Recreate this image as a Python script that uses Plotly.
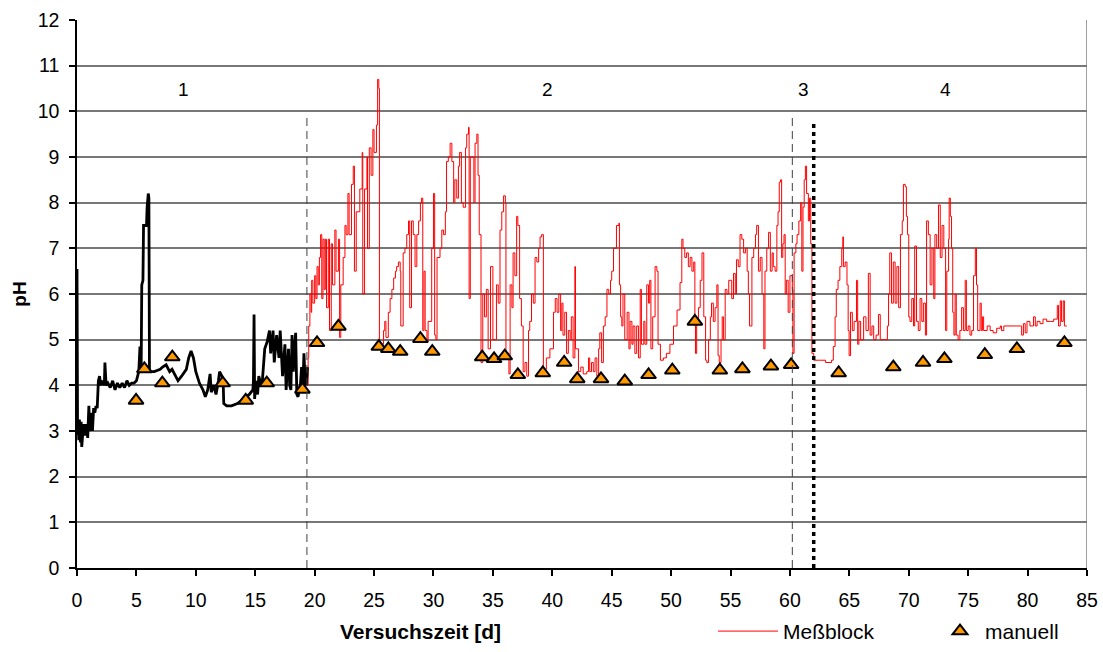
import plotly.graph_objects as go

# Phase 1 (black trace): time [d] and pH
t_phase1 = [
    0.00, 0.02, 0.05, 0.10, 0.15, 0.20, 0.30, 0.35, 0.40, 0.50,
    0.60, 0.70, 0.80, 0.90, 1.00, 1.05, 1.10, 1.20, 1.30, 1.40,
    1.50, 1.60, 1.70, 1.80, 1.90, 2.00, 2.10, 2.20, 2.30, 2.35,
    2.40, 2.45, 2.60, 2.80, 3.00, 3.20, 3.40, 3.60, 3.80, 4.00,
    4.20, 4.40, 4.60, 4.80, 5.00, 5.20, 5.30, 5.35, 5.40, 5.45,
    5.55, 5.60, 5.85, 5.90, 6.00, 6.05, 6.10, 6.50, 7.00, 7.20,
    7.50, 7.80, 8.00, 8.30, 8.50, 8.80, 9.20, 9.40, 9.60, 9.80,
    10.0, 10.3, 10.6, 10.8, 11.0, 11.2, 11.3, 11.5, 11.7, 11.9,
    12.0, 12.2, 12.3, 12.35, 12.6, 13.0, 13.5, 14.0, 14.5, 14.8,
    14.85, 14.9, 14.95, 15.05, 15.2, 15.3, 15.5, 15.6, 15.8, 16.0,
    16.2, 16.3, 16.5, 16.6, 16.8, 17.0, 17.1, 17.3, 17.5, 17.6,
    17.8, 17.9, 18.0, 18.1, 18.2, 18.4, 18.5, 18.6, 18.8, 18.9,
    19.0, 19.1, 19.2, 19.3, 19.4,
]
ph_phase1 = [
    6.55, 3.00, 2.90, 3.20, 2.80, 3.25, 2.75, 3.20, 2.65, 3.00,
    3.15, 2.90, 3.15, 2.85, 3.55, 3.10, 3.00, 3.40, 3.00, 3.50,
    3.40, 3.55, 3.50, 4.10, 4.20, 4.00, 4.10, 4.05, 4.00, 4.50,
    4.05, 4.00, 4.05, 3.95, 4.10, 3.90, 4.05, 3.95, 4.05, 3.95,
    4.10, 4.00, 4.05, 4.05, 4.10, 4.30, 4.85, 4.30, 4.35, 6.20,
    6.30, 7.50, 7.50, 7.90, 8.20, 8.10, 4.30, 4.30, 4.35, 4.40,
    4.45, 4.30, 4.35, 4.20, 4.10, 4.20, 4.35, 4.60, 4.75, 4.60,
    4.30, 4.05, 3.90, 3.75, 3.90, 4.25, 3.85, 4.00, 3.80, 4.10,
    4.30, 4.20, 4.10, 3.60, 3.55, 3.55, 3.60, 3.70, 3.80, 3.90,
    4.10, 5.55, 3.70, 4.10, 3.80, 4.20, 4.00, 4.10, 4.80, 4.95,
    5.20, 4.70, 5.20, 4.50, 5.10, 4.60, 5.20, 4.20, 4.90, 3.90,
    4.80, 4.00, 3.90, 5.10, 4.30, 5.15, 3.80, 3.75, 4.00, 4.40,
    3.90, 4.70, 4.10, 4.00, 4.40,
]

# Meßblock (red trace): time [d] and pH
t_messblock = [
    19.35, 19.45, 19.5, 19.6, 19.7, 19.75, 19.85, 20.0, 20.1, 20.2,
    20.3, 20.4, 20.5, 20.6, 20.7, 20.8, 20.9, 21.0, 21.15, 21.25,
    21.4, 21.5, 21.7, 21.8, 22.0, 22.1, 22.2, 22.4, 22.55, 22.65,
    22.8, 22.9, 23.1, 23.25, 23.35, 23.5, 23.8, 24.0, 24.05, 24.2,
    24.4, 24.45, 24.6, 24.75, 24.9, 25.0, 25.2, 25.3, 25.4, 25.45,
    25.65, 25.8, 25.9, 26.0, 26.2, 26.35, 26.5, 26.65, 26.8, 26.9,
    27.05, 27.2, 27.25, 27.45, 27.6, 27.75, 27.9, 28.0, 28.15, 28.3,
    28.45, 28.6, 28.75, 28.9, 29.0, 29.1, 29.2, 29.3, 29.45, 29.55,
    29.85, 30.0, 30.1, 30.2, 30.3, 30.55, 30.7, 30.85, 31.0, 31.1,
    31.25, 31.4, 31.55, 31.7, 31.8, 31.96, 32.1, 32.2, 32.35, 32.5,
    32.7, 32.8, 32.95, 33.0, 33.1, 33.4, 33.5, 33.65, 33.75, 33.85,
    34.0, 34.15, 34.3, 34.45, 34.6, 34.8, 35.0, 35.3, 35.45, 35.6,
    35.75, 35.9, 36.05, 36.1, 36.35, 36.45, 36.6, 36.7, 36.85, 37.0,
    37.1, 37.25, 37.4, 37.55, 37.7, 37.85, 38.0, 38.1, 38.25, 38.4,
    38.55, 38.7, 38.85, 38.97, 39.1, 39.25, 39.5, 39.8, 40.1, 40.25,
    40.4, 40.55, 40.7, 40.8, 40.9, 41.05, 41.2, 41.35, 41.5, 41.6,
    41.75, 41.9, 41.95, 42.2, 42.4, 42.6, 42.9, 43.05, 43.15, 43.3,
    43.45, 43.6, 43.75, 43.9, 44.0, 44.15, 44.3, 44.45, 44.6, 44.75,
    44.9, 45.0, 45.15, 45.25, 45.4, 45.6, 45.65, 45.75, 45.85, 45.95,
    46.1, 46.3, 46.45, 46.55, 46.7, 46.8, 46.95, 47.1, 47.25, 47.4,
    47.5, 47.7, 47.8, 47.95, 48.1, 48.2, 48.3, 48.45, 48.65, 48.8,
    48.9, 49.1, 49.35, 49.6, 49.9, 50.2, 50.5, 50.75, 50.9, 51.0,
    51.15, 51.3, 51.45, 51.6, 51.75, 51.9, 52.0, 52.05, 52.15, 52.3,
    52.45, 52.6, 52.75, 52.9, 53.0, 53.15, 53.3, 53.4, 53.55, 53.7,
    53.85, 53.95, 54.05, 54.2, 54.3, 54.4, 54.55, 54.7, 54.85, 54.96,
    55.1, 55.25, 55.4, 55.5, 55.65, 55.8, 55.95, 56.1, 56.25, 56.4,
    56.5, 56.6, 56.8, 56.95, 57.1, 57.2, 57.35, 57.5, 57.65, 57.8,
    57.9, 58.05, 58.2, 58.35, 58.5, 58.6, 58.75, 58.9, 59.0, 59.1,
    59.2, 59.3, 59.4, 59.5, 59.6, 59.7, 59.85, 60.0, 60.2, 60.25,
    60.35, 60.5, 60.6, 60.75, 60.9, 61.0, 61.1, 61.2, 61.3, 61.4,
    61.55, 61.65, 61.75, 61.85, 62.0, 62.5, 63.0, 63.5, 63.65, 63.8,
    63.9, 64.05, 64.2, 64.36, 64.45, 64.5, 64.65, 64.8, 64.9, 64.98,
    65.1, 65.25, 65.4, 65.6, 65.7, 65.8, 65.95, 66.2, 66.4, 66.6,
    66.75, 66.9, 67.05, 67.25, 67.45, 67.6, 67.9, 68.2, 68.3, 68.4,
    68.55, 68.7, 68.85, 69.0, 69.15, 69.3, 69.45, 69.55, 69.7, 69.8,
    69.9, 70.0, 70.1, 70.25, 70.4, 70.5, 70.65, 70.8, 70.95, 71.1,
    71.25, 71.4, 71.5, 71.65, 71.8, 71.95, 72.1, 72.2, 72.35, 72.5,
    72.65, 72.8, 72.95, 73.1, 73.2, 73.35, 73.4, 73.5, 73.6, 73.7,
    73.8, 73.9, 74.0, 74.15, 74.3, 74.45, 74.6, 74.75, 74.85, 75.0,
    75.15, 75.3, 75.45, 75.6, 75.7, 75.8, 76.0, 76.1, 76.2, 76.3,
    76.6, 76.85, 77.1, 77.4, 77.7, 77.8, 78.0, 79.4, 79.5, 79.65,
    79.8, 79.95, 80.2, 80.5, 80.65, 80.8, 81.05, 81.3, 81.6, 81.9,
    82.2, 82.5, 82.6, 82.75, 82.85, 83.0, 83.1, 83.3,
]
ph_messblock = [
    4.00, 4.60, 5.30, 6.00, 5.60, 6.30, 5.80, 6.40, 5.90, 6.60,
    6.20, 6.80, 7.30, 5.90, 7.20, 6.10, 7.20, 5.70, 7.20, 5.20,
    7.10, 6.20, 7.40, 6.50, 7.20, 5.05, 6.20, 6.80, 7.50, 7.30,
    8.20, 7.30, 8.40, 8.80, 6.50, 7.80, 8.30, 9.10, 6.00, 8.30,
    9.00, 7.00, 9.20, 8.60, 9.60, 9.10, 9.70, 10.70, 10.50, 4.85,
    4.90, 5.20, 5.40, 5.05, 5.60, 5.90, 6.10, 6.35, 6.50, 6.60,
    6.70, 6.50, 5.30, 6.90, 7.00, 7.30, 7.60, 5.70, 7.60, 7.30,
    6.60, 7.30, 7.60, 8.00, 8.10, 5.20, 6.50, 5.20, 4.95, 5.40,
    7.00, 8.20, 5.10, 5.00, 6.80, 7.00, 7.40, 7.30, 7.80, 8.90,
    9.00, 9.30, 8.90, 8.00, 8.50, 8.10, 8.80, 9.10, 8.00, 7.90,
    9.20, 9.50, 9.65, 5.90, 9.00, 8.00, 9.30, 9.50, 8.60, 7.30,
    4.50, 6.00, 5.50, 6.10, 4.80, 6.60, 5.00, 6.20, 5.80, 7.40,
    7.80, 8.15, 8.00, 4.70, 4.25, 6.20, 5.70, 6.90, 6.40, 7.70,
    7.50, 5.90, 5.30, 4.30, 4.50, 4.20, 5.20, 5.40, 6.00, 5.80,
    6.80, 6.70, 7.00, 7.25, 7.30, 4.35, 4.60, 4.80, 5.60, 5.90,
    5.60, 6.00, 5.20, 5.80, 5.10, 5.60, 4.70, 5.20, 5.00, 5.50,
    4.60, 6.60, 4.80, 4.30, 4.40, 4.25, 4.30, 4.60, 4.30, 4.50,
    4.30, 4.60, 4.20, 4.80, 5.15, 4.50, 5.30, 5.50, 6.10, 6.00,
    6.30, 6.50, 7.00, 7.00, 7.50, 7.55, 6.20, 5.50, 5.30, 6.00,
    5.00, 5.60, 4.80, 5.40, 4.90, 5.30, 4.70, 5.30, 4.60, 6.10,
    4.90, 5.40, 4.90, 6.20, 5.80, 6.30, 4.80, 5.50, 6.60, 6.50,
    4.90, 4.55, 4.60, 4.70, 4.90, 5.30, 5.65, 6.25, 7.20, 7.00,
    6.80, 6.90, 6.60, 6.80, 6.50, 6.70, 5.30, 4.70, 5.40, 5.70,
    6.30, 6.90, 5.50, 4.55, 4.50, 5.00, 5.50, 5.80, 5.40, 5.70,
    6.20, 4.65, 4.50, 5.00, 5.50, 5.00, 6.10, 6.00, 6.30, 6.30,
    5.90, 6.45, 6.00, 6.75, 6.60, 7.30, 7.20, 6.90, 7.00, 6.50,
    6.00, 5.30, 6.80, 7.00, 7.30, 7.50, 6.50, 6.80, 6.00, 4.80,
    6.50, 7.00, 7.35, 6.50, 6.90, 6.60, 6.50, 7.50, 7.80, 8.45,
    8.50, 6.80, 7.10, 7.30, 6.00, 6.30, 5.60, 6.40, 6.10, 4.70,
    6.90, 7.10, 7.30, 7.60, 8.00, 6.50, 7.90, 8.50, 8.80, 8.20,
    7.60, 8.10, 7.10, 4.70, 4.55, 4.55, 4.50, 4.55, 4.85, 5.50,
    6.10, 6.30, 6.60, 7.00, 7.25, 6.60, 6.70, 6.20, 5.20, 4.65,
    5.60, 5.20, 5.40, 6.30, 4.90, 5.40, 5.00, 5.50, 5.20, 6.45,
    5.10, 5.30, 5.00, 5.10, 5.55, 5.00, 5.00, 5.30, 6.00, 6.90,
    5.80, 6.70, 5.80, 6.60, 5.70, 7.30, 7.60, 8.40, 8.35, 7.70,
    7.30, 5.50, 5.40, 5.90, 5.30, 7.05, 5.40, 5.20, 5.90, 5.40,
    5.80, 5.10, 7.60, 7.30, 6.20, 7.00, 5.90, 7.30, 7.00, 7.95,
    6.80, 7.50, 7.00, 5.20, 6.50, 7.20, 8.10, 7.70, 7.00, 5.60,
    5.10, 6.00, 5.10, 5.00, 5.20, 5.70, 5.20, 6.30, 5.20, 5.30,
    5.10, 5.20, 6.40, 7.00, 6.20, 5.20, 5.80, 5.20, 5.50, 5.20,
    5.30, 5.20, 5.15, 5.25, 5.30, 5.20, 5.30, 5.30, 5.10, 5.35,
    5.15, 5.40, 5.30, 5.50, 5.30, 5.40, 5.35, 5.45, 5.40, 5.40,
    5.45, 5.75, 5.30, 5.85, 5.40, 5.85, 5.30, 5.30,
]

# manual readings (triangles)
t_manuell = [
    4.97, 5.67, 7.18, 8.02, 12.26, 14.2, 15.97, 18.97, 20.2, 22.0,
    25.4, 26.2, 27.2, 28.9, 29.9, 34.1, 35.1, 36.0, 37.1, 39.2,
    41.0, 42.1, 44.1, 46.1, 48.1, 50.1, 52.0, 54.1, 56.0, 58.4,
    60.1, 64.1, 68.7, 71.2, 73.0, 76.4, 79.1, 83.1,
]
ph_manuell = [
    3.67, 4.36, 4.05, 4.62, 4.05, 3.67, 4.05, 3.91, 4.93, 5.29,
    4.85, 4.80, 4.74, 5.02, 4.74, 4.62, 4.58, 4.64, 4.23, 4.27,
    4.50, 4.14, 4.14, 4.09, 4.23, 4.33, 5.40, 4.33, 4.36, 4.42,
    4.45, 4.27, 4.40, 4.50, 4.58, 4.67, 4.80, 4.93,
]

# phase labels and boundaries
phase_labels = ["1", "2", "3", "4"]
phase_label_x = [9.0, 39.6, 61.1, 73.1]
phase_label_y = 10.47
dashed_bounds = [19.35, 60.2]
dashed_top = 9.9
dotted_bound = 62.0
dotted_top = 9.8

FONT = "Liberation Sans, Arial, sans-serif"

# plot area in pixels
L, R, T, B = 77, 1087, 20, 568.5
W, H = 1103, 652
PW, PH = R - L, B - T


def px_x(p):
    return (p - L) / PW


def px_y(p):
    return (B - p) / PH


fig = go.Figure()

fig.add_trace(go.Scatter(
    x=t_messblock, y=ph_messblock, mode="lines", name="Meßblock",
    line=dict(color="#ff0000", width=1, shape="hv"), legend="legend",
))
fig.add_trace(go.Scatter(
    x=t_phase1, y=ph_phase1, mode="lines", showlegend=False,
    line=dict(color="#000000", width=2.8),
))
fig.add_trace(go.Scatter(
    x=t_manuell, y=ph_manuell, mode="markers", name="manuell",
    marker=dict(symbol="triangle-up", size=13, color="#ff9900",
                line=dict(color="#000000", width=2)),
    legend="legend2",
))

shapes = []
for xb in dashed_bounds:
    shapes.append(dict(type="line", xref="x", yref="y", x0=xb, x1=xb,
                       y0=0, y1=dashed_top,
                       line=dict(color="#404040", width=1, dash="8px,5px")))
shapes.append(dict(type="line", xref="x", yref="y", x0=dotted_bound,
                   x1=dotted_bound, y0=0, y1=dotted_top,
                   line=dict(color="#000000", width=3.5, dash="4px,4px")))
# right frame edge of the plot area
shapes.append(dict(type="line", xref="x", yref="y", x0=85, x1=85, y0=0, y1=12,
                   line=dict(color="#808080", width=1.5), layer="below"))

annotations = [
    dict(x=x, y=phase_label_y, xref="x", yref="y", text=s, showarrow=False,
         font=dict(size=19, family=FONT, color="black"))
    for s, x in zip(phase_labels, phase_label_x)
]
annotations.append(dict(
    x=px_x(420), y=px_y(632), xref="paper", yref="paper",
    text="<b>Versuchszeit [d]</b>", showarrow=False, yanchor="middle",
    font=dict(size=21, family=FONT, color="black"),
))

legend_common = dict(orientation="h", xanchor="left", yanchor="middle",
                     y=px_y(632), font=dict(size=21, family=FONT),
                     bgcolor="rgba(0,0,0,0)", borderwidth=0)

fig.update_layout(
    width=W, height=H,
    margin=dict(l=L, r=W - R, t=T, b=H - B, pad=0, autoexpand=False),
    paper_bgcolor="white", plot_bgcolor="white",
    font=dict(family=FONT, size=19, color="black"),
    shapes=shapes, annotations=annotations,
    showlegend=True,
    legend=dict(x=px_x(713), itemwidth=60, **legend_common),
    legend2=dict(x=px_x(935), itemwidth=40, **legend_common),
    xaxis=dict(range=[0, 85], tick0=0, dtick=5, showgrid=False,
               zeroline=False, showline=True, linecolor="black", linewidth=1.5,
               ticks="outside", ticklen=6, tickcolor="black", tickwidth=1.5,
               ticklabelstandoff=8, tickfont=dict(size=19.5)),
    yaxis=dict(range=[0, 12], tick0=0, dtick=1, showgrid=True,
               gridcolor="#777777", gridwidth=1.5, zeroline=False,
               showline=True, linecolor="black", linewidth=1.5,
               ticks="outside", ticklen=6, tickcolor="black", tickwidth=1.5,
               ticklabelstandoff=6, tickfont=dict(size=19.5),
               title=dict(text="<b>pH</b>", standoff=6,
                          font=dict(size=19))),
)

fig.write_html("out.html")
